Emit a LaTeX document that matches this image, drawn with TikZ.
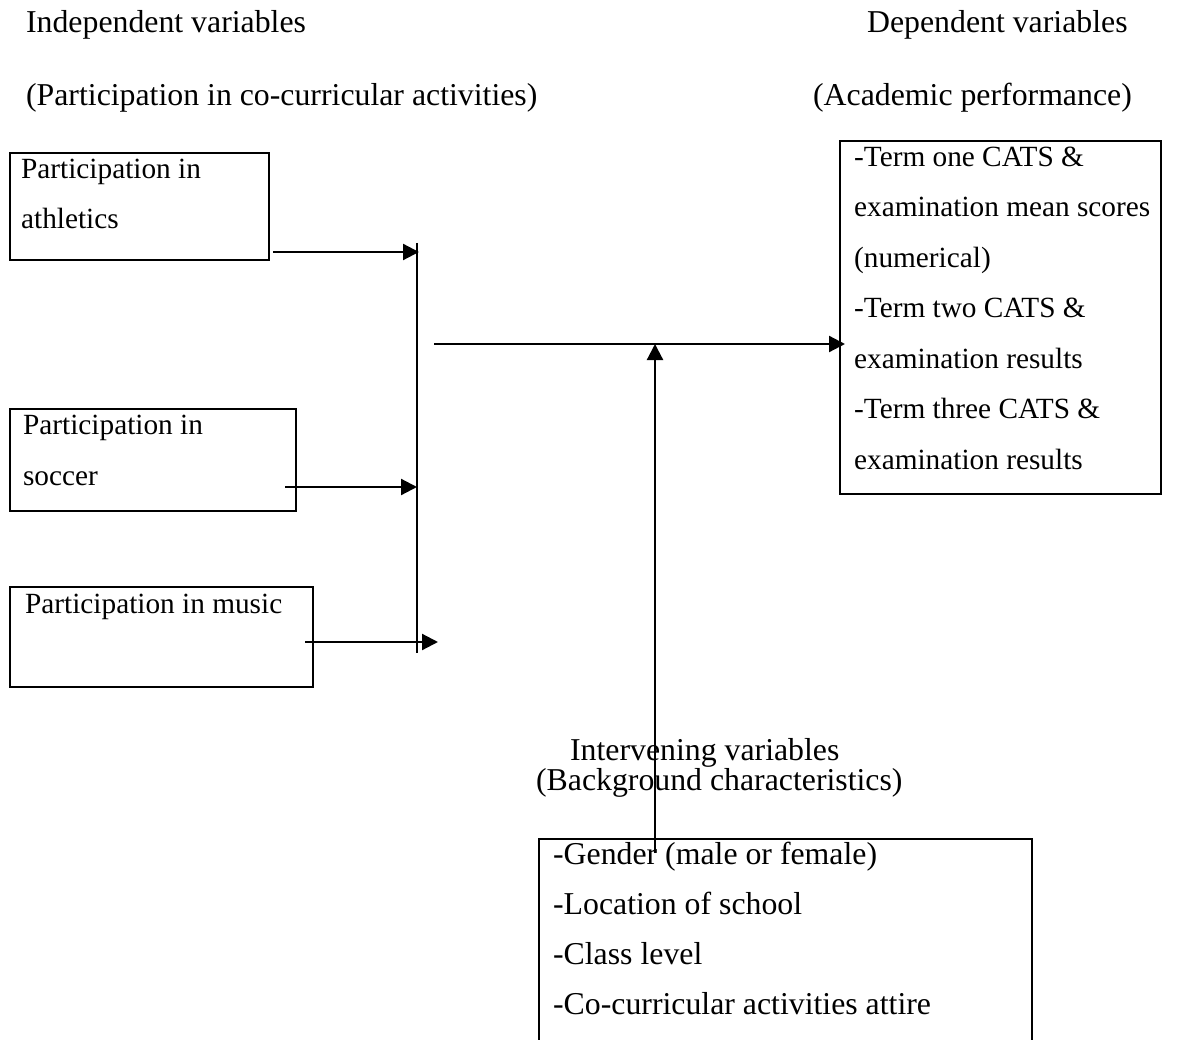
\documentclass[tikz,border=0pt]{standalone}
\usepackage{fontspec}
\setmainfont{Liberation Serif}
\usetikzlibrary{arrows.meta,positioning,calc}
\tikzset{
  cf/.style={
    x=1pt, y=-1pt,
    line width=2.2pt,
    >={Triangle[length=16pt,width=16pt]}
  },
  varbox/.style={                  % framed variable box
    draw=black, line width=2.2pt,
    inner sep=0pt,
    anchor=north west
  },
  boxtext/.style={                 % text inside the left and right boxes
    inner sep=0pt, anchor=base west, align=left,
    font=\fontsize{29.3}{50.5}\selectfont
  },
  headtext/.style={                % headings and intervening list
    inner sep=0pt, anchor=base west, align=left,
    font=\fontsize{31.8}{50}\selectfont
  },
  linkarrow/.style={->, line width=2.2pt, draw=black},
  joinbar/.style={line width=2.2pt, draw=black}
}
\begin{document}
\begin{tikzpicture}[cf]
\useasboundingbox (0,0) rectangle (1190,1040);

% Headings
\node[headtext] (indep) at (25,33) {Independent variables};
\node[headtext] (indepsub) at (25,106) {(Participation in co-curricular activities)};
\node[headtext] (dep) at (866,33) {Dependent variables};
\node[headtext] (depsub) at (812,106) {(Academic performance)};

% Independent variable boxes (text placed by its last baseline)
\node[varbox, minimum width=259pt, minimum height=107pt] (athletics) at (9,152) {};
\node[boxtext] (athleticstxt) at (20,229) {Participation in\\athletics};

\node[varbox, minimum width=286pt, minimum height=102pt] (soccer) at (9,408) {};
\node[boxtext] (soccertxt) at (22,485) {Participation in\\soccer};

\node[varbox, minimum width=303pt, minimum height=100pt] (music) at (9,586) {};
\node[boxtext] (musictxt) at (24,613) {Participation in music};

% Dependent variable box
\node[varbox, minimum width=321pt, minimum height=353pt] (perf) at (839,140) {};
\node[boxtext] (perftxt) at (853,469)
  {-Term one CATS \&\\examination mean scores\\(numerical)\\-Term two CATS \&\\examination results\\-Term three CATS \&\\examination results};

% Intervening variables
\node[headtext, font=\fontsize{31.8}{28.5}\selectfont] (interv) at (535,790)
  {\hspace*{34pt}Intervening variables\\(Background characteristics)};
\node[varbox, minimum width=493pt, minimum height=230pt] (backgr) at (538,838) {};
\node[headtext] (backgrtxt) at (552,1014)
  {-Gender (male or female)\\-Location of school\\-Class level\\-Co-curricular activities attire};

% Joining bar and arrow ends
\coordinate (bartop) at (417,243);
\coordinate (barbot) at (417,653);
\coordinate (athout) at (273,252);
\coordinate (socout) at (285,487);
\coordinate (musout) at (305,642);
\coordinate (musend) at (438,642);
\coordinate (mainstart) at (434,344);
\coordinate (bgstart) at (655,853);

\draw[joinbar] (bartop) -- (barbot);
\draw[linkarrow] (athout) -- ([xshift=2pt]athout -| bartop);
\draw[linkarrow] (socout) -- (socout -| bartop);
\draw[linkarrow] (musout) -- (musend);

% Into the dependent variables
\draw[linkarrow] (mainstart) -- ([xshift=6pt]mainstart -| perf.west);

% Background characteristics feed in
\draw[linkarrow] (bgstart) -- (bgstart |- mainstart);

\end{tikzpicture}
\end{document}
